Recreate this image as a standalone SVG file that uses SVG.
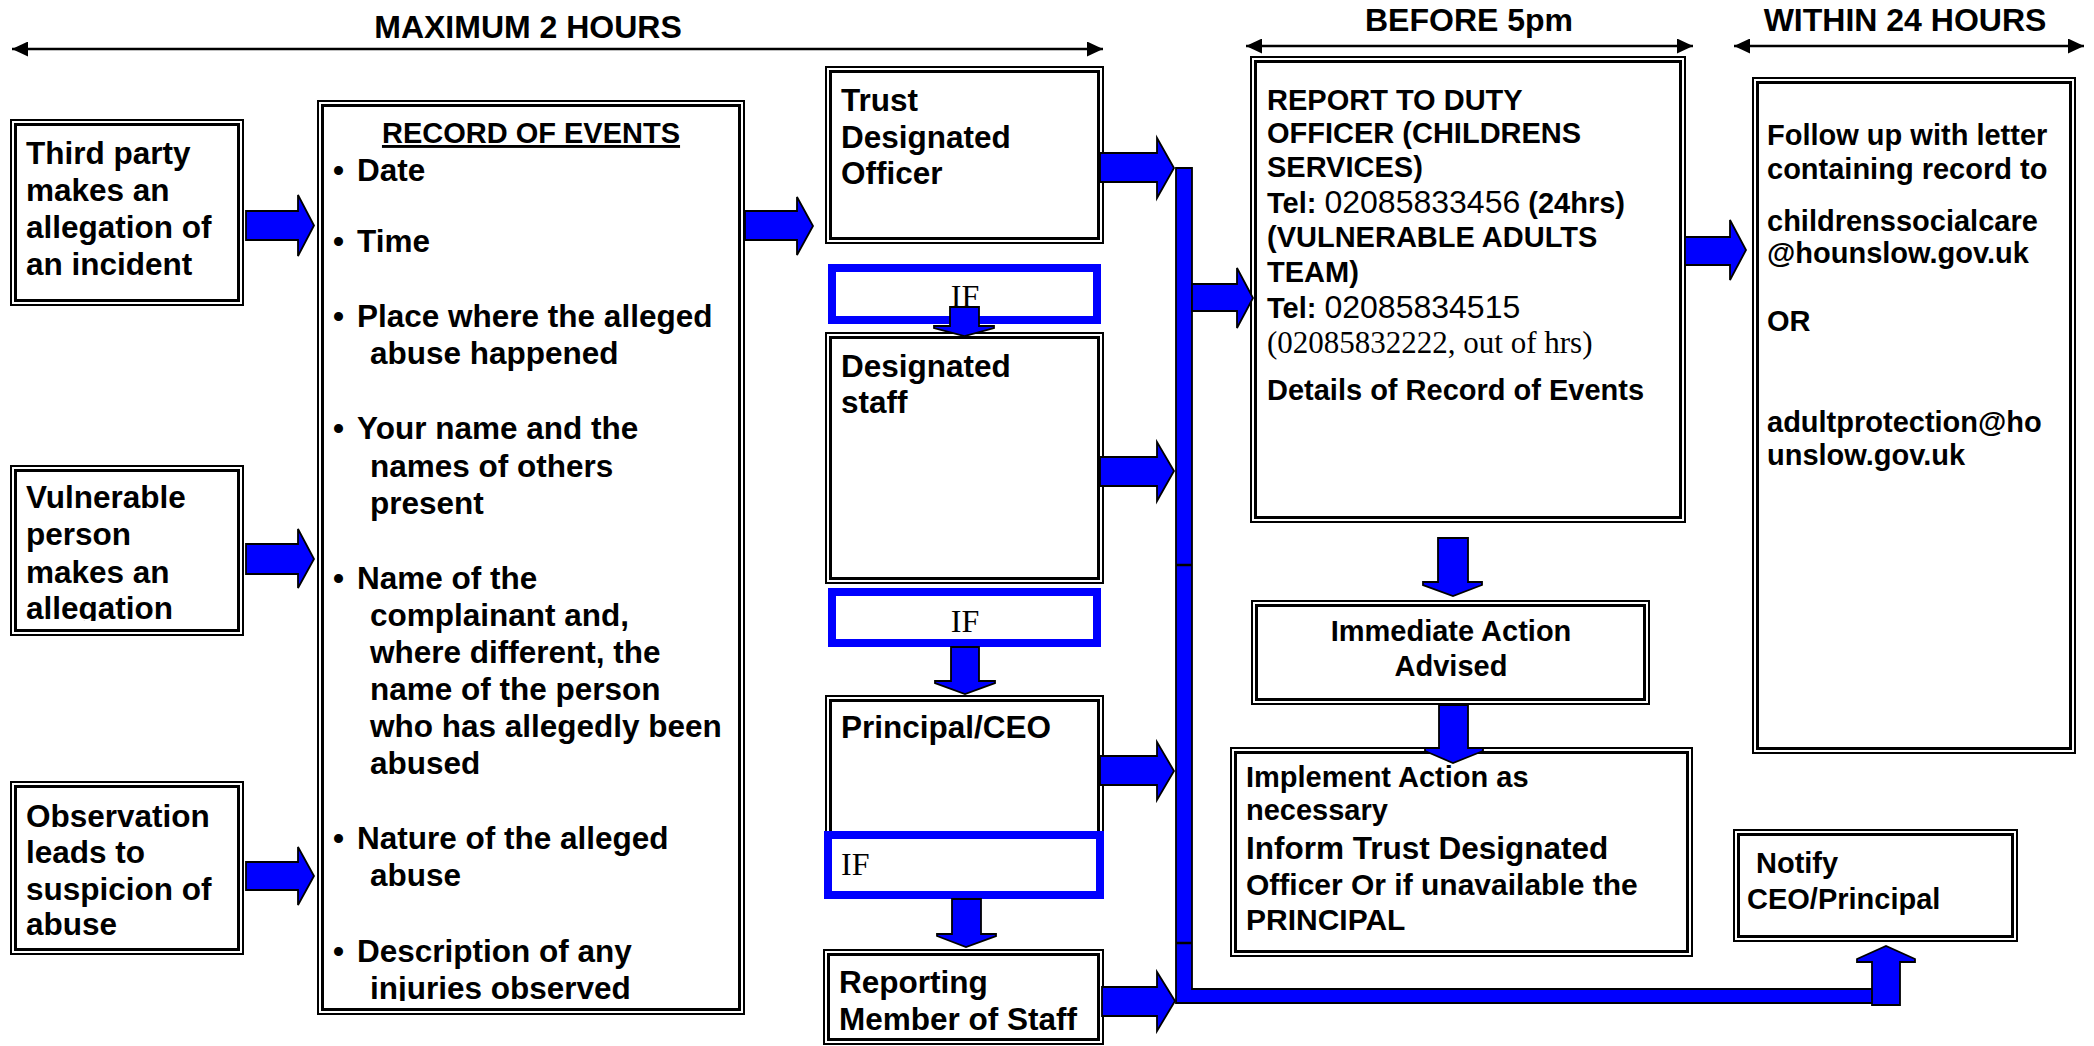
<svg xmlns="http://www.w3.org/2000/svg" width="2094" height="1046" viewBox="0 0 2094 1046">
<style>
.o{fill:#fff;stroke:#000;stroke-width:2}
.i{fill:none;stroke:#000;stroke-width:3}
.ifb{fill:#fff;stroke:#0000ff;stroke-width:8}
.t{font-family:"Liberation Sans",Arial,sans-serif;font-weight:bold;font-size:31.5px;fill:#000}
.h{font-family:"Liberation Sans",Arial,sans-serif;font-weight:bold;font-size:32px;fill:#000;text-anchor:middle}
.s{font-family:"Liberation Sans",Arial,sans-serif;font-weight:bold;font-size:29px;fill:#000}
.n{font-weight:normal;font-size:32px}
.tm{font-family:"Liberation Serif","Times New Roman",serif;font-size:32px;fill:#000}
.ba{fill:#0000ff;stroke:#000;stroke-width:1.8;stroke-linejoin:miter}
.dl{stroke:#000;stroke-width:2.5;fill:none}
</style>
<defs>
<marker id="ah" markerWidth="16" markerHeight="15" refX="16" refY="7.5" orient="auto-start-reverse" markerUnits="userSpaceOnUse">
<path d="M0,0 L16,7.5 L0,15 z" fill="#000"/>
</marker>
<clipPath id="clipB"><rect x="11" y="466" width="232" height="155"/></clipPath>
<clipPath id="clipR"><rect x="318" y="101" width="426" height="900"/></clipPath>
</defs>

<g id="timeline">
<text class="h" x="528" y="38">MAXIMUM 2 HOURS</text>
<line class="dl" x1="12" y1="49" x2="1103" y2="49" marker-start="url(#ah)" marker-end="url(#ah)"/>
<text class="h" x="1469" y="31">BEFORE 5pm</text>
<line class="dl" x1="1246" y1="46" x2="1693" y2="46" marker-start="url(#ah)" marker-end="url(#ah)"/>
<text class="h" x="1905" y="31">WITHIN 24 HOURS</text>
<line class="dl" x1="1734" y1="46" x2="2084" y2="46" marker-start="url(#ah)" marker-end="url(#ah)"/>
</g>

<g id="third-party">
<rect class="o" x="11" y="120" width="232" height="185"/>
<rect class="i" x="15.5" y="124.5" width="223" height="176"/>
<text class="t" x="26"><tspan x="26" y="164">Third party</tspan><tspan x="26" y="201">makes an</tspan><tspan x="26" y="238">allegation of</tspan><tspan x="26" y="275">an incident</tspan></text>
</g>

<g id="vulnerable-person">
<rect class="o" x="11" y="466" width="232" height="169"/>
<rect class="i" x="15.5" y="470.5" width="223" height="160"/>
<text class="t" clip-path="url(#clipB)"><tspan x="26" y="508">Vulnerable</tspan><tspan x="26" y="545">person</tspan><tspan x="26" y="583">makes an</tspan><tspan x="26" y="619">allegation</tspan></text>
</g>

<g id="observation">
<rect class="o" x="11" y="782" width="232" height="172"/>
<rect class="i" x="15.5" y="786.5" width="223" height="163"/>
<text class="t"><tspan x="26" y="827">Observation</tspan><tspan x="26" y="863">leads to</tspan><tspan x="26" y="900">suspicion of</tspan><tspan x="26" y="935">abuse</tspan></text>
</g>

<g id="record-of-events">
<rect class="o" x="318" y="101" width="426" height="913"/>
<rect class="i" x="322.5" y="105.5" width="417" height="904"/>
<text class="s" x="531" y="143" text-anchor="middle" text-decoration="underline">RECORD OF EVENTS</text>
<g class="t" clip-path="url(#clipR)">
<text class="t"><tspan x="333" y="181">•</tspan><tspan x="357" y="181">Date</tspan></text>
<text class="t"><tspan x="333" y="252">•</tspan><tspan x="357" y="252">Time</tspan></text>
<text class="t"><tspan x="333" y="327">•</tspan><tspan x="357" y="327">Place where the alleged</tspan><tspan x="370" y="364">abuse happened</tspan></text>
<text class="t"><tspan x="333" y="439">•</tspan><tspan x="357" y="439">Your name and the</tspan><tspan x="370" y="477">names of others</tspan><tspan x="370" y="514">present</tspan></text>
<text class="t"><tspan x="333" y="589">•</tspan><tspan x="357" y="589">Name of the</tspan><tspan x="370" y="626">complainant and,</tspan><tspan x="370" y="663">where different, the</tspan><tspan x="370" y="700">name of the person</tspan><tspan x="370" y="737">who has allegedly been</tspan><tspan x="370" y="774">abused</tspan></text>
<text class="t"><tspan x="333" y="849">•</tspan><tspan x="357" y="849">Nature of the alleged</tspan><tspan x="370" y="886">abuse</tspan></text>
<text class="t"><tspan x="333" y="962">•</tspan><tspan x="357" y="962">Description of any</tspan><tspan x="370" y="999">injuries observed</tspan></text>
</g>
</g>

<g id="trust-designated-officer">
<rect class="o" x="826" y="67" width="277" height="176"/>
<rect class="i" x="830.5" y="71.5" width="268" height="167"/>
<text class="t"><tspan x="841" y="111">Trust</tspan><tspan x="841" y="148">Designated</tspan><tspan x="841" y="184">Officer</tspan></text>
</g>

<g id="if-1">
<rect class="ifb" x="832" y="268" width="265" height="52"/>
<text class="tm" x="965" y="307" text-anchor="middle">IF</text>
</g>

<g id="designated-staff">
<rect class="o" x="826" y="333" width="277" height="250"/>
<rect class="i" x="830.5" y="337.5" width="268" height="241"/>
<text class="t"><tspan x="841" y="377">Designated</tspan><tspan x="841" y="413">staff</tspan></text>
</g>

<g id="if-2">
<rect class="ifb" x="832" y="592" width="265" height="51"/>
<text class="tm" x="965" y="632" text-anchor="middle">IF</text>
</g>

<g id="principal-ceo">
<rect class="o" x="826" y="696" width="277" height="148"/>
<rect class="i" x="830.5" y="700.5" width="268" height="139"/>
<text class="t" x="841" y="738">Principal/CEO</text>
</g>

<g id="if-3">
<rect class="ifb" x="828" y="835" width="272" height="60"/>
<text class="tm" x="841" y="875">IF</text>
</g>

<g id="reporting-member">
<rect class="o" x="824" y="950" width="279" height="94"/>
<rect class="i" x="828.5" y="954.5" width="270" height="85"/>
<text class="t"><tspan x="839" y="993">Reporting</tspan><tspan x="839" y="1030">Member of Staff</tspan></text>
</g>

<g id="report-duty-officer">
<rect class="o" x="1251" y="57" width="434" height="465"/>
<rect class="i" x="1255.5" y="61.5" width="425" height="456"/>
<text class="s"><tspan x="1267" y="110">REPORT TO DUTY</tspan><tspan x="1267" y="143">OFFICER (CHILDRENS</tspan><tspan x="1267" y="177">SERVICES)</tspan></text>
<text class="s" x="1267" y="213">Tel: <tspan class="n">02085833456</tspan> (24hrs)</text>
<text class="s"><tspan x="1267" y="247">(VULNERABLE ADULTS</tspan><tspan x="1267" y="282">TEAM)</tspan></text>
<text class="s" x="1267" y="318">Tel: <tspan class="n">02085834515</tspan></text>
<text class="tm" x="1267" y="353" style="font-size:31px">(02085832222, out of hrs)</text>
<text class="s" x="1267" y="400">Details of Record of Events</text>
</g>

<g id="follow-up">
<rect class="o" x="1753" y="78" width="322" height="675"/>
<rect class="i" x="1757.5" y="82.5" width="313" height="666"/>
<text class="s"><tspan x="1767" y="145">Follow up with letter</tspan><tspan x="1767" y="179">containing record to</tspan><tspan x="1767" y="231">childrenssocialcare</tspan><tspan x="1767" y="263">@hounslow.gov.uk</tspan><tspan x="1767" y="331">OR</tspan><tspan x="1767" y="432">adultprotection@ho</tspan><tspan x="1767" y="465">unslow.gov.uk</tspan></text>
</g>

<g id="immediate-action">
<rect class="o" x="1252" y="601" width="397" height="103"/>
<rect class="i" x="1256.5" y="605.5" width="388" height="94"/>
<text class="s" text-anchor="middle"><tspan x="1451" y="641">Immediate Action</tspan><tspan x="1451" y="676">Advised</tspan></text>
</g>

<g id="implement-action">
<rect class="o" x="1231" y="748" width="461" height="208"/>
<rect class="i" x="1235.5" y="752.5" width="452" height="199"/>
<text class="s"><tspan x="1246" y="787">Implement Action as</tspan><tspan x="1246" y="820">necessary</tspan></text>
<text class="s" x="1246" y="859" style="font-size:31.5px">Inform Trust Designated</text>
<text class="s" style="font-size:30px"><tspan x="1246" y="895">Officer Or if unavailable the</tspan><tspan x="1246" y="930">PRINCIPAL</tspan></text>
</g>

<g id="notify-ceo">
<rect class="o" x="1734" y="830" width="283" height="111"/>
<rect class="i" x="1738.5" y="834.5" width="274" height="102"/>
<text class="s"><tspan x="1756" y="873">Notify</tspan><tspan x="1747" y="909">CEO/Principal</tspan></text>
</g>

<g id="connectors">
<path class="ba" d="M1176,168 H1192 V989 H1874 V1003 H1176 Z"/>
<line x1="1176" y1="565" x2="1192" y2="565" stroke="#000" stroke-width="2.5"/>
<line x1="1176" y1="943" x2="1192" y2="943" stroke="#000" stroke-width="2.5"/>
<polygon class="ba" points="246,211 298,211 298,195 314,225.5 298,256 298,240 246,240"/>
<polygon class="ba" points="246,544 298,544 298,529 314,559 298,588 298,574 246,574"/>
<polygon class="ba" points="246,862 298,862 298,847 314,876 298,905 298,890 246,890"/>
<polygon class="ba" points="745,211 797,211 797,197 813,226 797,255 797,240 745,240"/>
<polygon class="ba" points="1100,153 1157,153 1157,138 1174,168 1157,198 1157,182 1100,182"/>
<polygon class="ba" points="1100,457 1157,457 1157,442 1174,471 1157,501 1157,486 1100,486"/>
<polygon class="ba" points="1100,756 1157,756 1157,742 1174,771 1157,800 1157,785 1100,785"/>
<polygon class="ba" points="1102,987 1157,987 1157,972 1175,1001 1157,1031 1157,1016 1102,1016"/>
<polygon class="ba" points="1192,284 1237,284 1237,268 1253,298 1237,328 1237,311 1192,311"/>
<polygon class="ba" points="1685,237 1730,237 1730,220 1746,250 1730,280 1730,265 1685,265"/>
<polygon class="ba" points="950,307 979,307 979,326 994,326 994,328 964.5,336 934,328 934,326 950,326"/>
<polygon class="ba" points="951,647 979,647 979,681 995,681 995,683 965,694 935,683 935,681 951,681"/>
<polygon class="ba" points="952,899 981,899 981,934 996,934 996,936 966,947 937,936 937,934 952,934"/>
<polygon class="ba" points="1438,538 1468,538 1468,582 1482,582 1482,585 1453,596 1423,585 1423,582 1438,582"/>
<polygon class="ba" points="1439,705 1468,705 1468,748 1483,748 1483,751 1453,763 1425,751 1425,748 1439,748"/>
<polygon class="ba" points="1872,1005 1900,1005 1900,962 1915,962 1915,959 1886,946 1857,959 1857,962 1872,962"/>
</g>
</svg>
